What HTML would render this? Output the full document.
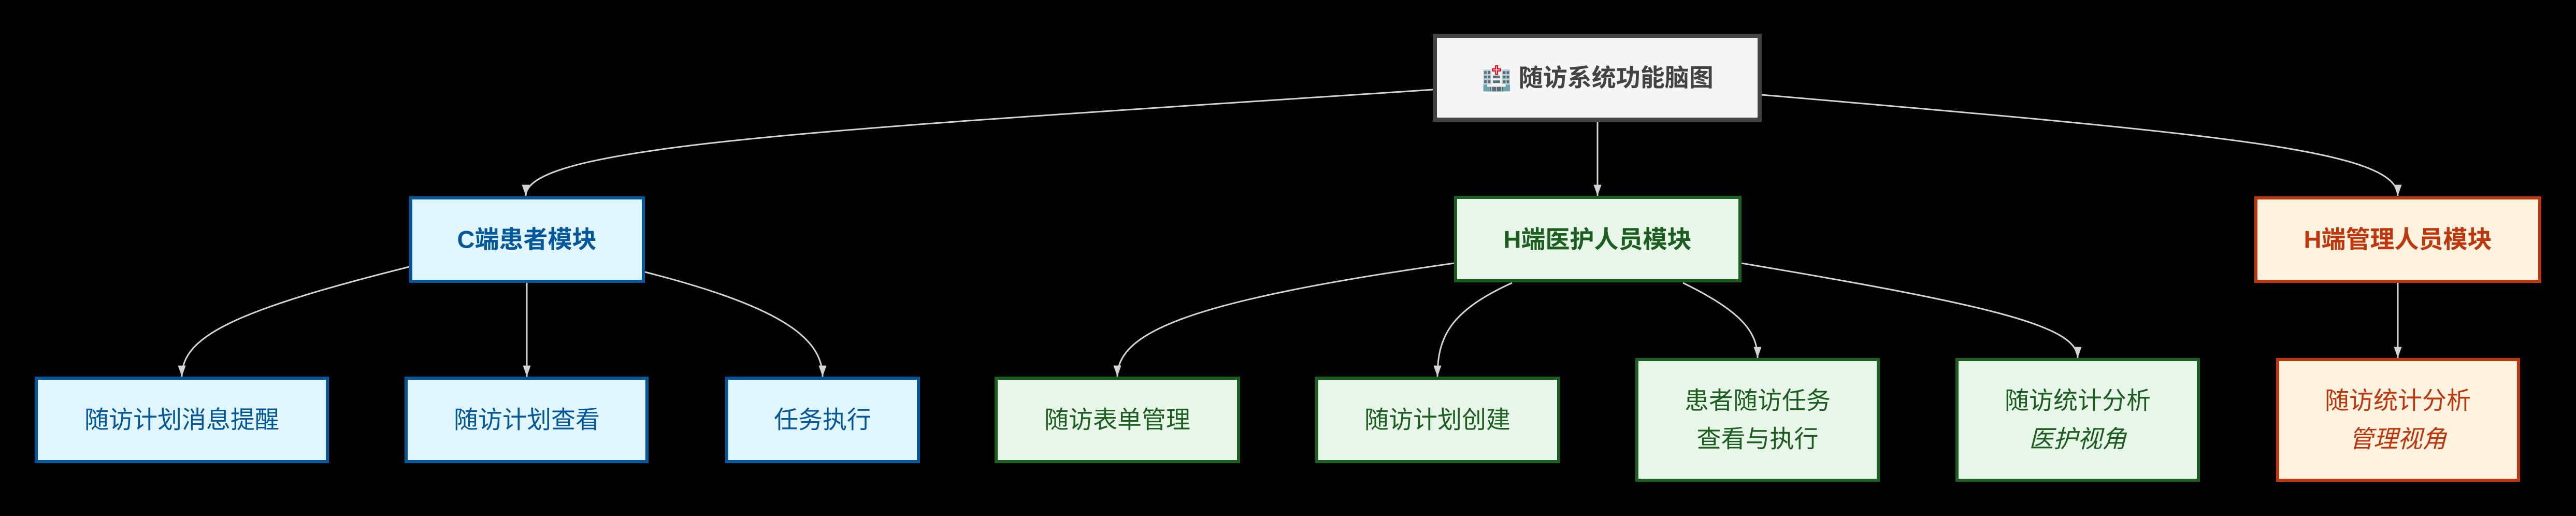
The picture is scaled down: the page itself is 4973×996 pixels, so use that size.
<!DOCTYPE html>
<html><head><meta charset="utf-8"><style>
html,body{margin:0;padding:0;background:#000;width:4973px;height:996px;overflow:hidden}
svg{display:block}
text{font-family:"Liberation Sans","Noto Sans CJK SC",sans-serif;text-anchor:middle;dominant-baseline:central}
</style></head><body>
<svg width="4973" height="996" viewBox="0 0 4973 996" xmlns="http://www.w3.org/2000/svg">
<defs>
<marker id="a" viewBox="0 0 20 14" refX="20" refY="7" markerWidth="22" markerHeight="15" markerUnits="userSpaceOnUse" orient="auto">
<path d="M0,0 L20,7 L0,14 z" fill="#d3d3d3"/>
</marker>
</defs>
<g fill="none" stroke="#d3d3d3" stroke-width="3" marker-end="url(#a)">
<path d="M2766,173 C1600,250 1015,280 1015,378"/>
<path d="M3084,235 L3084,378"/>
<path d="M3401,183 C4300,260 4629,290 4629,378"/>
<path d="M790,515 C450,600 351,650 351,727"/>
<path d="M1017,546 L1017,727"/>
<path d="M1245,525 C1500,590 1588,650 1588,727"/>
<path d="M2807,508 C2300,580 2157,640 2157,727"/>
<path d="M2919,546 C2800,600 2775,650 2775,727"/>
<path d="M3249,546 C3360,600 3393,640 3393,691"/>
<path d="M3362,508 C3850,590 4011,630 4011,691"/>
<path d="M4629,546 L4629,691"/>
</g>
<!-- root -->
<rect x="2770" y="69" width="627" height="162" fill="#f5f5f5" stroke="#424242" stroke-width="8"/>
<text x="3084" y="150" font-size="47" font-weight="bold" fill="#424242">🏥 随访系统功能脑图</text>
<!-- blue -->
<g fill="#e1f5fe" stroke="#01579b" stroke-width="6">
<rect x="793" y="382" width="449" height="161"/>
<rect x="70" y="730" width="562" height="161"/>
<rect x="784" y="730" width="465" height="161"/>
<rect x="1403" y="730" width="370" height="161"/>
</g>
<g fill="#01579b" font-size="47">
<text x="1017" y="462" font-weight="bold">C端患者模块</text>
<text x="351" y="810">随访计划消息提醒</text>
<text x="1017" y="810">随访计划查看</text>
<text x="1588" y="810">任务执行</text>
</g>
<!-- green -->
<g fill="#e8f5e9" stroke="#1b5e20" stroke-width="6">
<rect x="2810" y="381" width="549" height="161"/>
<rect x="1923" y="730" width="468" height="161"/>
<rect x="2542" y="730" width="467" height="161"/>
<rect x="3160" y="694" width="466" height="233"/>
<rect x="3778" y="694" width="466" height="233"/>
</g>
<g fill="#1b5e20" font-size="47">
<text x="3084" y="462" font-weight="bold">H端医护人员模块</text>
<text x="2157" y="810">随访表单管理</text>
<text x="2775" y="810">随访计划创建</text>
<text x="3393" y="773">患者随访任务</text>
<text x="3393" y="847">查看与执行</text>
<text x="4011" y="773">随访统计分析</text>
<text x="4011" y="847" font-style="italic">医护视角</text>
</g>
<!-- orange -->
<g fill="#fff3e0" stroke="#bf360c" stroke-width="6">
<rect x="4355" y="382" width="548" height="161"/>
<rect x="4397" y="694" width="465" height="233"/>
</g>
<g fill="#bf360c" font-size="47">
<text x="4629" y="462" font-weight="bold">H端管理人员模块</text>
<text x="4629" y="773">随访统计分析</text>
<text x="4629" y="847" font-style="italic">管理视角</text>
</g>
</svg>
</body></html>
